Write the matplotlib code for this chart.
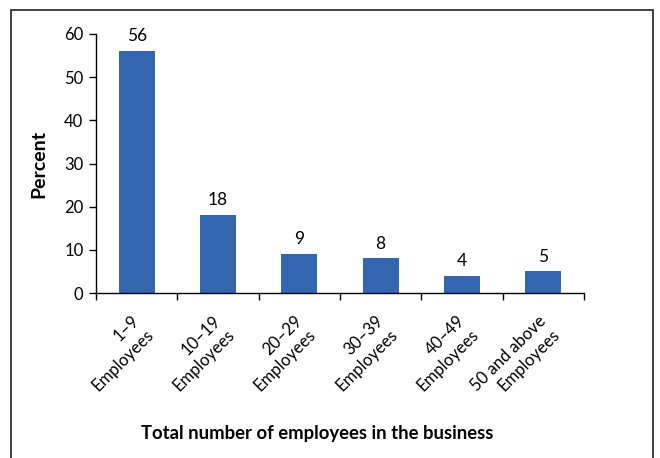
import matplotlib
matplotlib.use("Agg")
import matplotlib.pyplot as plt
from matplotlib.patches import Rectangle

categories = ["1\u20139\nEmployees", "10\u201319\nEmployees", "20\u201329\nEmployees",
              "30\u201339\nEmployees", "40\u201349\nEmployees", "50 and above\nEmployees"]
values = [56, 18, 9, 8, 4, 5]
yticks = [0, 10, 20, 30, 40, 50, 60]

plt.rcParams['font.family'] = ['Lato', 'DejaVu Sans']

W, H = 660, 458
fig = plt.figure(figsize=(W / 100, H / 100), dpi=100)

# outer border
fig.patches.append(Rectangle((11 / W, -0.05), (653 - 11) / W, 1.05 - 10 / H,
                             transform=fig.transFigure, fill=False,
                             edgecolor='#333333', linewidth=1.3))

ax = fig.add_axes([96 / W, 1 - 293 / H, (584 - 96) / W, (293 - 34) / H])
x = list(range(len(values)))
ax.bar(x, values, width=0.44, color='#3465AF', zorder=2)
for xi, v in zip(x, values):
    ax.text(xi, v + 1.6, str(v), ha='center', va='bottom', fontsize=12.5, color='black')

ax.set_xlim(-0.5, len(values) - 0.5)
ax.set_ylim(0, 60)
ax.set_yticks(yticks)
ax.set_yticklabels([str(t) for t in yticks], fontsize=12)
ax.set_xticks([i - 0.5 for i in range(len(values) + 1)])
ax.set_xticklabels([])
ax.tick_params(axis='x', direction='out', length=5, width=1)
ax.tick_params(axis='y', direction='out', length=5, width=1, pad=4)
for s in ['top', 'right']:
    ax.spines[s].set_visible(False)
for s in ['left', 'bottom']:
    ax.spines[s].set_linewidth(1)
    ax.spines[s].set_color('black')

for xi, lab in zip(x, categories):
    ax.annotate(lab, xy=(xi, 0), xycoords=('data', 'axes fraction'),
                xytext=(-4, -14), textcoords='offset points',
                rotation=45, ha='right', va='top', rotation_mode='anchor',
                multialignment='right', linespacing=1.3, fontsize=12)

ax.set_ylabel("Percent", fontsize=14, fontweight='bold', labelpad=12)
fig.text(317 / W, 1 - 433 / H, "Total number of employees in the business",
         ha='center', va='center', fontsize=13.3, fontweight='bold')

fig.savefig("out.png", dpi=100)
